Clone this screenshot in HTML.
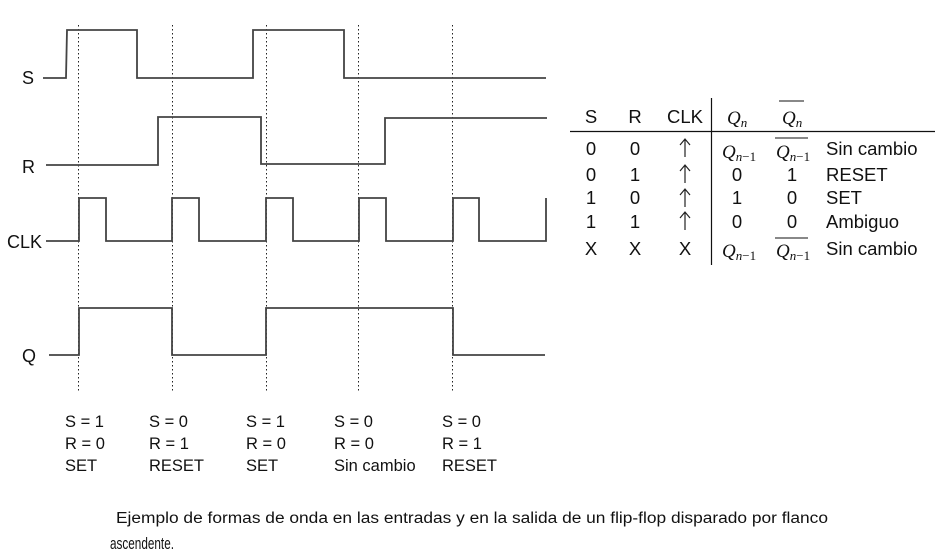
<!DOCTYPE html>
<html><head><meta charset="utf-8"><style>
html,body{margin:0;padding:0;background:#fff}
svg{display:block}
text{font-family:"Liberation Sans",Arial,sans-serif;fill:#111}
.s{font-family:"Liberation Serif",serif;font-style:italic}
</style></head><body>
<svg width="944" height="555" viewBox="0 0 944 555" xmlns="http://www.w3.org/2000/svg">
<g stroke="#222" stroke-width="1" stroke-dasharray="1.5,2.5" fill="none">
<line x1="78.5" y1="25" x2="78.5" y2="392"/>
<line x1="172.5" y1="25" x2="172.5" y2="392"/>
<line x1="266.5" y1="25" x2="266.5" y2="392"/>
<line x1="358.5" y1="25" x2="358.5" y2="392"/>
<line x1="452.5" y1="25" x2="452.5" y2="392"/>
</g>
<g stroke="#444" stroke-width="1.8" fill="none">
<polyline points="43,78 66,78 67,30 137,30 137,78 253,78 253,30 344,30 344,78 546,78"/>
<polyline points="46,165 158,165 158,117 261,117 261,164 385,164 385,118 547,118"/>
<polyline points="46,241 79,241 79,198 106,198 106,241 172,241 172,198 199,198 199,241 266,241 266,198 293,198 293,241 359,241 359,198 386,198 386,241 453,241 453,198 479,198 479,241 546,241 546,198"/>
<polyline points="49,355 79,355 79,308 172,308 172,355 266,355 266,308 453,308 453,355 545,355"/>
</g>
<g font-size="18">
<text x="22" y="84">S</text>
<text x="22" y="173">R</text>
<text x="7" y="248">CLK</text>
<text x="22" y="362">Q</text>
</g>
<g font-size="16.5">
<text x="65" y="427">S = 1</text><text x="65" y="449">R = 0</text><text x="65" y="471">SET</text>
<text x="149" y="427">S = 0</text><text x="149" y="449">R = 1</text><text x="149" y="471">RESET</text>
<text x="246" y="427">S = 1</text><text x="246" y="449">R = 0</text><text x="246" y="471">SET</text>
<text x="334" y="427">S = 0</text><text x="334" y="449">R = 0</text><text x="334" y="471">Sin cambio</text>
<text x="442" y="427">S = 0</text><text x="442" y="449">R = 1</text><text x="442" y="471">RESET</text>
</g>
<g font-size="15.5">
<text x="116" y="523" textLength="712" lengthAdjust="spacingAndGlyphs">Ejemplo de formas de onda en las entradas y en la salida de un flip-flop disparado por flanco</text>
<text x="110" y="549" font-size="17" textLength="64" lengthAdjust="spacingAndGlyphs">ascendente.</text>
</g>
<line x1="570" y1="131.5" x2="935" y2="131.5" stroke="#111" stroke-width="1.2"/>
<line x1="711.5" y1="98" x2="711.5" y2="265" stroke="#111" stroke-width="1.2"/>
<g font-size="18.5" text-anchor="middle">
<text x="591" y="123">S</text><text x="635" y="123">R</text><text x="685" y="123">CLK</text>
<text x="591" y="155">0</text><text x="635" y="155">0</text>
<text x="591" y="181">0</text><text x="635" y="181">1</text>
<text x="591" y="204">1</text><text x="635" y="204">0</text>
<text x="591" y="228">1</text><text x="635" y="228">1</text>
<text x="591" y="255">X</text><text x="635" y="255">X</text><text x="685" y="255">X</text>
<text x="737" y="181">0</text><text x="792" y="181">1</text>
<text x="737" y="204">1</text><text x="792" y="204">0</text>
<text x="737" y="228">0</text><text x="792" y="228">0</text>
</g>
<g stroke="#222" stroke-width="1.2" fill="none">
<path d="M685,140 V157 M680,145 L685,139 L690,145"/>
<path d="M685,166 V183 M680,171 L685,165 L690,171"/>
<path d="M685,190 V207 M680,195 L685,189 L690,195"/>
<path d="M685,213 V230 M680,218 L685,212 L690,218"/>
</g>
<g font-size="18.5">
<text x="826" y="155">Sin cambio</text>
<text x="826" y="181">RESET</text>
<text x="826" y="204">SET</text>
<text x="826" y="228">Ambiguo</text>
<text x="826" y="255">Sin cambio</text>
</g>
<g>
<text class="s" x="727" y="124" font-size="19">Q<tspan font-size="13" dy="3">n</tspan></text>
<text class="s" x="782" y="124" font-size="19">Q<tspan font-size="13" dy="3">n</tspan></text>
<line x1="779" y1="101" x2="804" y2="101" stroke="#111" stroke-width="1"/>
<text class="s" x="722" y="158" font-size="19">Q<tspan font-size="13" dy="3">n</tspan><tspan font-style="normal" font-size="13">−1</tspan></text>
<text class="s" x="776" y="158" font-size="19">Q<tspan font-size="13" dy="3">n</tspan><tspan font-style="normal" font-size="13">−1</tspan></text>
<line x1="775" y1="138" x2="808" y2="138" stroke="#111" stroke-width="1"/>
<text class="s" x="722" y="257" font-size="19">Q<tspan font-size="13" dy="3">n</tspan><tspan font-style="normal" font-size="13">−1</tspan></text>
<text class="s" x="776" y="257" font-size="19">Q<tspan font-size="13" dy="3">n</tspan><tspan font-style="normal" font-size="13">−1</tspan></text>
<line x1="775" y1="238" x2="808" y2="238" stroke="#111" stroke-width="1"/>
</g>
</svg>
</body></html>
